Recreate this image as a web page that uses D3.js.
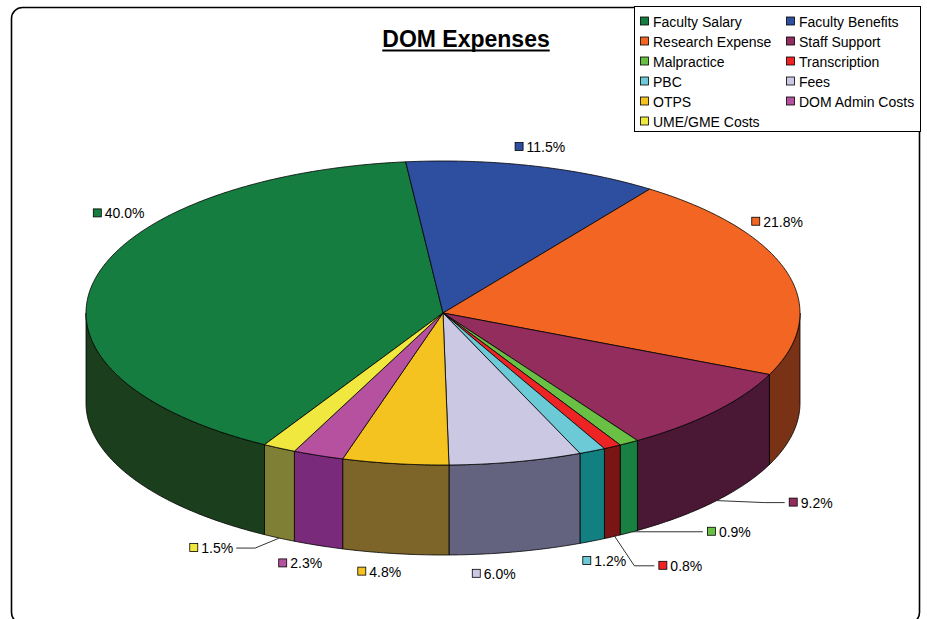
<!DOCTYPE html>
<html>
<head>
<meta charset="utf-8">
<script src="https://cdn.jsdelivr.net/npm/d3@7"></script>
<style>
  html, body { margin: 0; padding: 0; background: #fff; }
  svg { display: block; font-family: "Liberation Sans", Arial, sans-serif; }
</style>
</head>
<body>
<svg id="chart" width="927" height="619"></svg>
<script>
// ---------- data ----------
const categories = ["Faculty Salary", "Faculty Benefits", "Research Expense", "Staff Support",
  "Malpractice", "Transcription", "PBC", "Fees", "OTPS", "DOM Admin Costs", "UME/GME Costs"];
const values = [40.0, 11.5, 21.8, 9.2, 0.9, 0.8, 1.2, 6.0, 4.8, 2.3, 1.5];
const percentLabels = ["40.0%", "11.5%", "21.8%", "9.2%", "0.9%", "0.8%", "1.2%", "6.0%", "4.8%", "2.3%", "1.5%"];
const topColors = ["#157d40", "#2e4fa0", "#f26522", "#922d5e", "#6abf45", "#ee2424",
  "#6bcad6", "#cbc8e3", "#f5c320", "#b5519e", "#f0e83e"];
const sideColors = ["#1b3f1d", "#17285a", "#7a3216", "#4a1834", "#188040", "#7a1515",
  "#128080", "#636380", "#7d6428", "#7a2a7a", "#7f7f35"];
const chartTitle = "DOM Expenses";

// ---------- layout ----------
const cx = 443, cy = 313, rx = 357, ry = 152, depth = 90;
const startDeg = 210;
// label nudges from anchor (mid-angle rim point): [dx, dy, leaderType]
const labelNudge = [[-1, -68, 0], [-19, -19, 0], [-36, -51, 0], [74, 1, 1], [78, -1, 2],
  [46, 29, 1], [-10, 20, 0], [-44, 22, 0], [-38, 18, 0], [-40, 18, 0], [-90, 10, 3]];

const svg = d3.select("#chart");
const rad = d3.scaleLinear().domain([0, 360]).range([0, 2 * Math.PI]);
const pie = d3.pie().sort(null).value(d => d)
  .startAngle(rad(startDeg)).endAngle(rad(startDeg + 360));
const arcs = pie(values);

const px = a => cx + rx * Math.sin(a);
const py = a => cy - ry * Math.cos(a);

function sample(a0, a1) {
  const n = Math.max(2, Math.ceil(Math.abs(a1 - a0) / 0.01));
  return d3.range(n + 1).map(i => a0 + (a1 - a0) * i / n);
}

// chart border
svg.append("rect").attr("x", 11.5).attr("y", 7.5).attr("width", 908).attr("height", 616)
  .attr("rx", 11).attr("fill", "#fff").attr("stroke", "#000").attr("stroke-width", 1.6);

// rims (front visible part)
const gRim = svg.append("g");
arcs.forEach((d, i) => {
  const ranges = [[Math.PI / 2, 3 * Math.PI / 2], [Math.PI / 2 + 2 * Math.PI, 3 * Math.PI / 2 + 2 * Math.PI]];
  ranges.forEach(([lo, hi]) => {
    const a0 = Math.max(d.startAngle, lo), a1 = Math.min(d.endAngle, hi);
    if (a1 <= a0) return;
    const top = sample(a0, a1).map(a => [px(a), py(a)]);
    const bot = sample(a1, a0).map(a => [px(a), py(a) + depth]);
    gRim.append("path")
      .attr("d", d3.line()(top.concat(bot)) + "Z")
      .attr("fill", sideColors[i]).attr("stroke", "#000").attr("stroke-width", 0.8)
      .attr("stroke-linejoin", "round");
  });
});

// top faces
const gTop = svg.append("g");
arcs.forEach((d, i) => {
  const pts = [[cx, cy]].concat(sample(d.startAngle, d.endAngle).map(a => [px(a), py(a)]));
  gTop.append("path")
    .attr("d", d3.line()(pts) + "Z")
    .attr("fill", topColors[i]).attr("stroke", "#000").attr("stroke-width", 0.8)
    .attr("stroke-linejoin", "round");
});

// labels
const gLab = svg.append("g").attr("font-size", 14);
arcs.forEach((d, i) => {
  const m = (d.startAngle + d.endAngle) / 2;
  const front = Math.cos(m) < 0;
  const ax = px(m), ay = py(m) + (front ? depth : 0);
  const [dx, dy, leader] = labelNudge[i];
  const lx = ax + dx, ly = ay + dy;
  gLab.append("rect").attr("x", lx + 0.5).attr("y", ly - 4.5).attr("width", 8).attr("height", 8)
    .attr("fill", topColors[i]).attr("stroke", "#000").attr("stroke-width", 0.8);
  const t = gLab.append("text").attr("x", lx + 12).attr("y", ly + 5)
    .attr("fill", "#000").text(percentLabels[i]);
  const tw = t.node().getComputedTextLength();
  let pts = null;
  if (leader === 1) pts = [[ax + 2, ay - 1], [lx - 24, ly], [lx - 4, ly]];
  else if (leader === 2) pts = [[ax + 3, ay - 1], [lx - 4, ly]];
  else if (leader === 3) pts = [[ax, ay], [lx + 12 + tw + 22, ly], [lx + 12 + tw + 3, ly]];
  if (pts) {
    gLab.append("path").attr("d", d3.line()(pts)).attr("fill", "none")
      .attr("stroke", "#333").attr("stroke-width", 1);
  }
});

// title
const title = svg.append("text").attr("x", 466).attr("y", 47).attr("text-anchor", "middle")
  .attr("font-size", 23).attr("font-weight", "bold").attr("fill", "#000").text(chartTitle);
const tb = title.node().getBBox();
svg.append("rect").attr("x", tb.x).attr("y", 49.5).attr("width", tb.width).attr("height", 2)
  .attr("fill", "#000");

// legend
const gLeg = svg.append("g");
gLeg.append("rect").attr("x", 634.5).attr("y", 6.5).attr("width", 286).attr("height", 125)
  .attr("fill", "#fff").attr("stroke", "#000").attr("stroke-width", 1);
categories.forEach((c, i) => {
  const col = i % 2, row = Math.floor(i / 2);
  const x = col === 0 ? 640 : 786;
  const y = 21.5 + row * 20;
  gLeg.append("rect").attr("x", x + 0.5).attr("y", y - 4.5).attr("width", 8).attr("height", 8)
    .attr("fill", topColors[i]).attr("stroke", "#000").attr("stroke-width", 0.8);
  gLeg.append("text").attr("x", x + 13).attr("y", y + 5).attr("font-size", 14)
    .attr("fill", "#000").text(c);
});
</script>
</body>
</html>
